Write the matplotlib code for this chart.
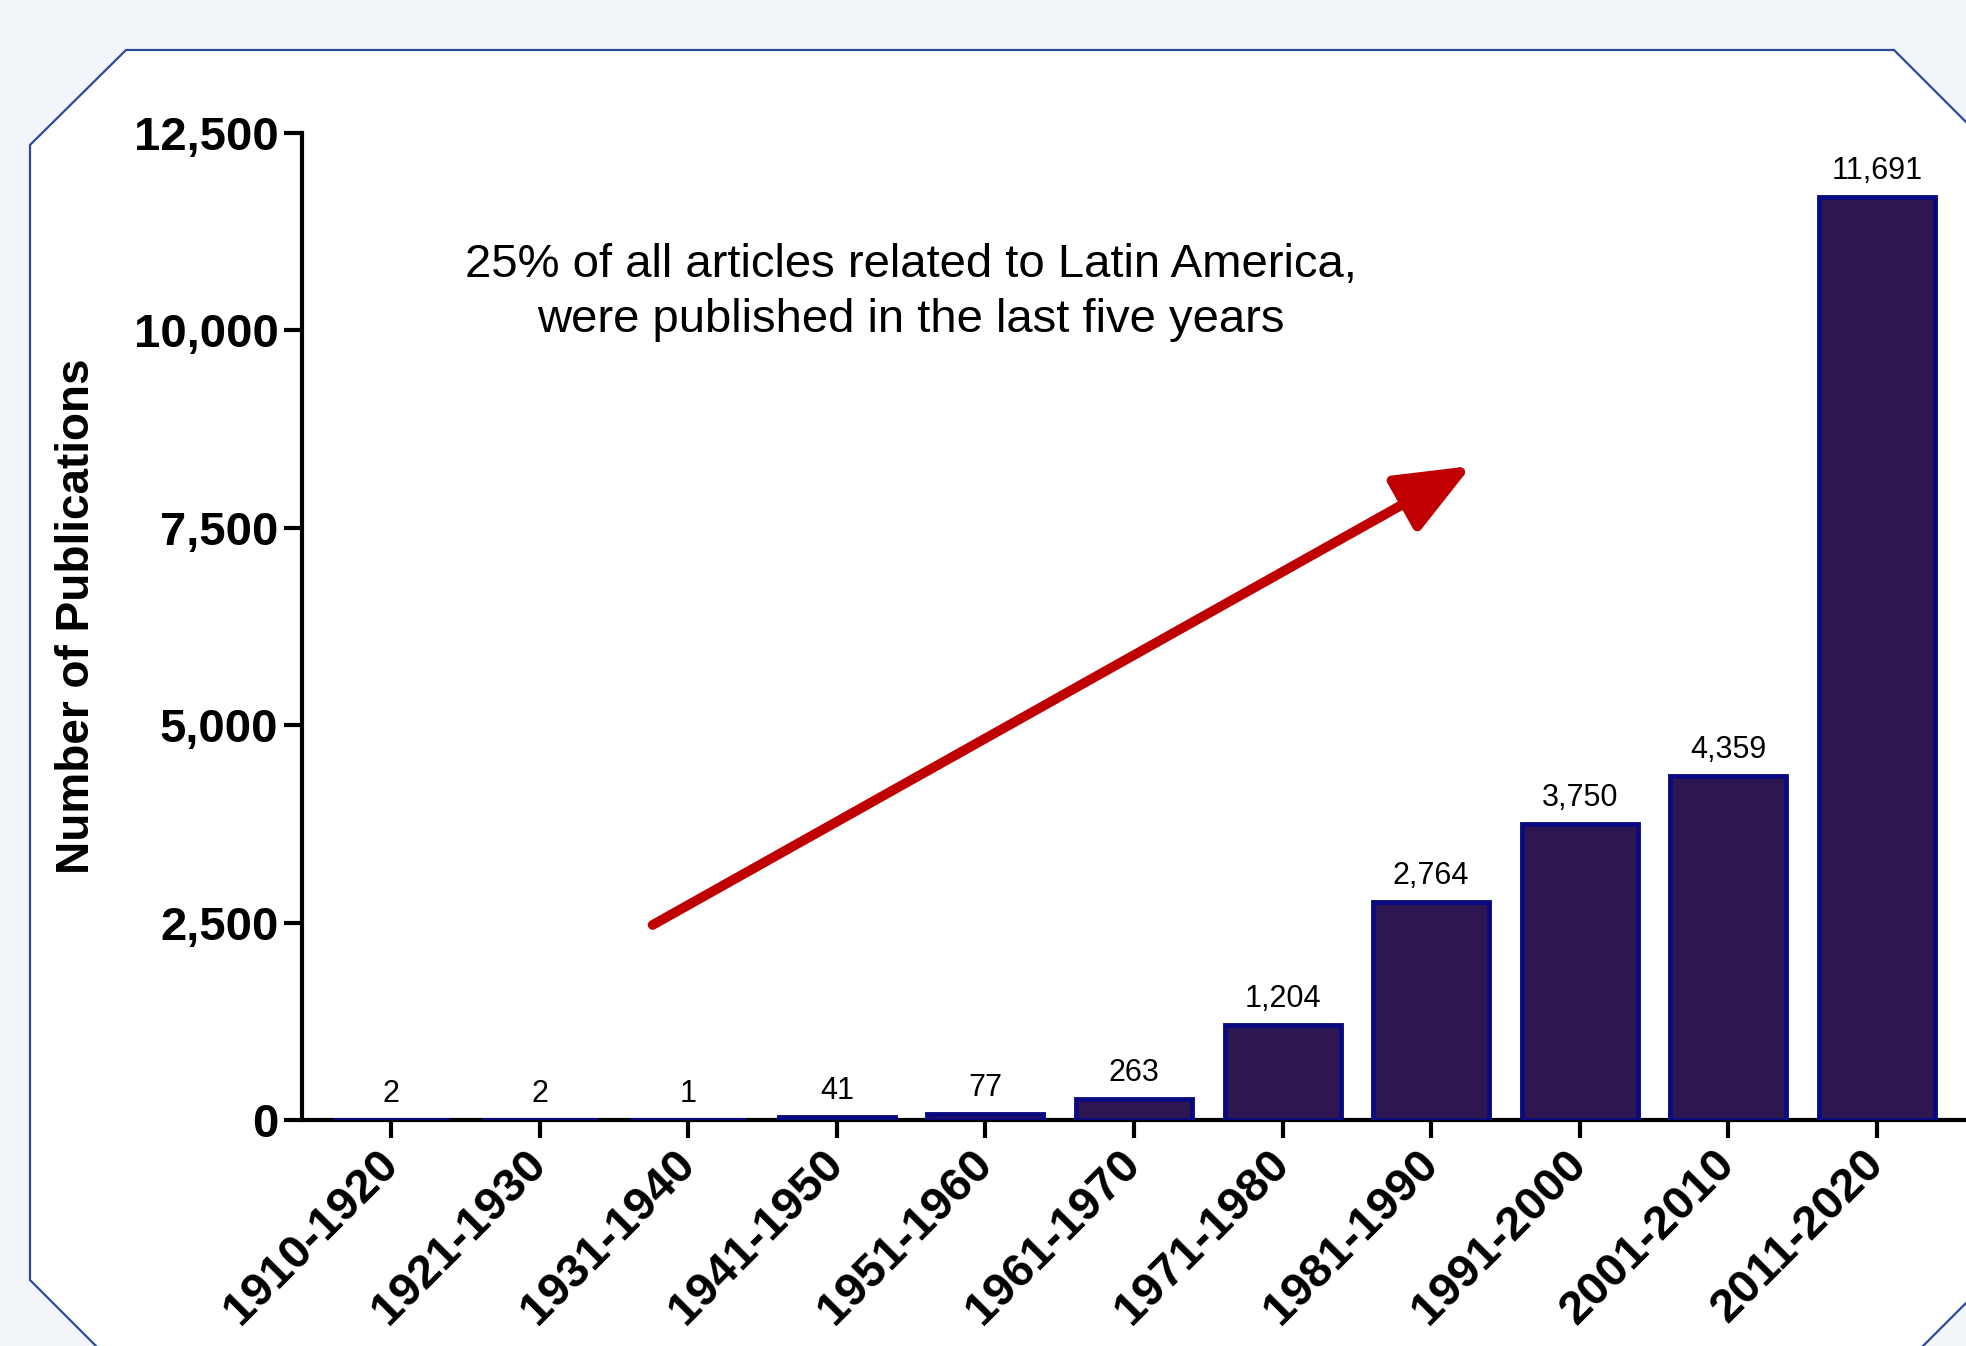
import matplotlib
matplotlib.use("Agg")
import matplotlib.pyplot as plt
from matplotlib.patches import Polygon
from matplotlib.ticker import FuncFormatter

decades = ["1910-1920", "1921-1930", "1931-1940", "1941-1950", "1951-1960",
           "1961-1970", "1971-1980", "1981-1990", "1991-2000", "2001-2010", "2011-2020"]
publications = [2, 2, 1, 41, 77, 263, 1204, 2764, 3750, 4359, 11691]
yticks = [0, 2500, 5000, 7500, 10000, 12500]
note = "25% of all articles related to Latin America,\nwere published in the last five years"

plt.rcParams['font.family'] = ['Liberation Sans', 'DejaVu Sans']

W, H = 1966, 1346
fig = plt.figure(figsize=(W / 100, H / 100), dpi=100, facecolor="#F2F5FA")

# octagon panel
pts = [(126, 50), (1894, 50), (2010, 166), (2010, 1259), (1869, 1400),
       (150, 1400), (30, 1280), (30, 145)]
poly = Polygon([(x / W, 1 - y / H) for x, y in pts], closed=True,
               transform=fig.transFigure, facecolor="white", edgecolor="#2B4A9B",
               linewidth=1.6, zorder=-10, clip_on=False)
fig.patches.append(poly)

left = 302 / W
bottom = 1 - 1120 / H
top = 1 - 133 / H
ax = fig.add_axes([left, bottom, 1.0 - left, top - bottom])
ax.set_facecolor("none")
ax.set_zorder(5)

x = list(range(len(decades)))
bars = ax.bar(x, publications, width=0.78, color="#2E1650", edgecolor="#0A0A80",
              linewidth=3.5, zorder=3)

for xi, v in zip(x, publications):
    ax.annotate(f"{v:,}", (xi, v), xytext=(0, 8), textcoords="offset points",
                ha="center", va="bottom", fontsize=22, color="black")

ax.set_xlim(-0.6, 10.6)
ax.set_ylim(0, 12500)
ax.set_yticks(yticks)
ax.yaxis.set_major_formatter(FuncFormatter(lambda v, p: f"{int(v):,}"))
ax.set_xticks(x)
ax.set_xticklabels(decades, rotation=45, ha="right", va="center",
                   rotation_mode="anchor")

for s in ["top", "right"]:
    ax.spines[s].set_visible(False)
for s in ["left", "bottom"]:
    ax.spines[s].set_linewidth(3)
    ax.spines[s].set_color("black")

ax.tick_params(axis="both", width=3, length=13, color="black", labelsize=34)
ax.tick_params(axis="y", pad=4)
ax.tick_params(axis="x", pad=14)
for lab in ax.get_xticklabels() + ax.get_yticklabels():
    lab.set_fontweight("bold")

ax.set_ylabel("Number of Publications", fontsize=33, fontweight="bold")
ax.yaxis.set_label_coords(-(302 - 99) / (W * (1.0 - left)), 0.51)

ax.text(3.5, 10480, note, ha="center", va="center", fontsize=34,
        linespacing=1.3, color="black")

ax.annotate("", xy=(7.27, 8283), xytext=(1.76, 2470),
            arrowprops=dict(arrowstyle="-|>,head_length=2.3,head_width=0.95",
                            mutation_scale=20, color="#C00000", lw=7,
                            capstyle="round", shrinkA=0, shrinkB=0))

fig.savefig("out.png", dpi=100, facecolor=fig.get_facecolor())
